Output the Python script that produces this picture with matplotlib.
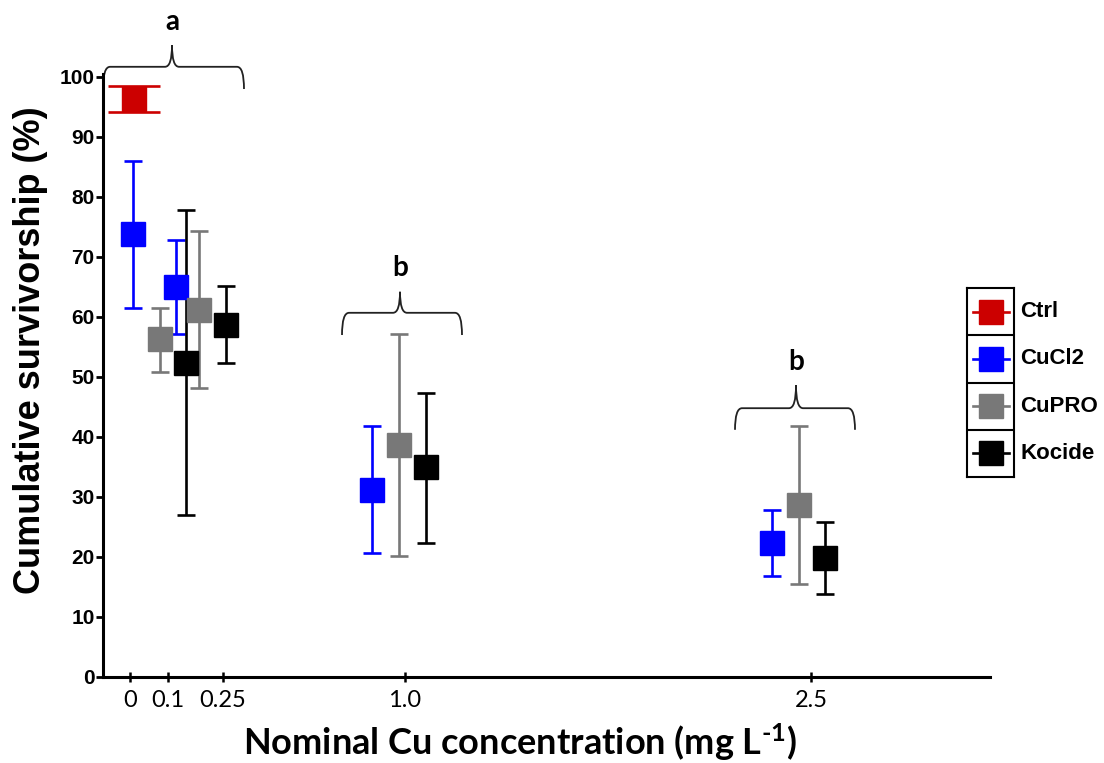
import matplotlib
matplotlib.use("Agg")
import matplotlib.pyplot as plt
from matplotlib.path import Path
from matplotlib.patches import PathPatch

# ---- data (survivorship %, mean with lower / upper bar ends) ----
conc_labels = ['0', '0.1', '0.25', '1.0', '2.5']

ctrl_mean = [96.3]
ctrl_lo = [94.2]
ctrl_hi = [98.5]

cucl2_mean = [73.8, 65.0, 31.2, 22.4]
cucl2_lo = [61.5, 57.2, 20.6, 16.9]
cucl2_hi = [86.0, 72.8, 41.8, 27.9]

cupro_mean = [56.3, 61.2, 38.7, 28.7]
cupro_lo = [50.9, 48.1, 20.2, 15.5]
cupro_hi = [61.5, 74.4, 57.2, 41.8]

kocide_mean = [52.4, 58.7, 35.0, 19.9]
kocide_lo = [27.0, 52.4, 22.4, 13.8]
kocide_hi = [77.8, 65.2, 47.3, 25.9]

group_letters = ['a', 'b', 'b']

# ---- layout: x axis is a stretched category axis ----
tick_pos = [27, 65, 120, 302, 708]
ctrl_x = [31]
cucl2_x = [30, 73, 269, 669]
cupro_x = [57, 96, 296, 696]
kocide_x = [83, 123, 323, 722]
# brace: left, right, centre, line y, end drop, tip rise ; letter y
braces = [(0, 141, 69, 101.7, 3.7, 3.6, 109.2),
          (239, 359, 297, 60.7, 3.7, 3.5, 68.2),
          (632, 752, 693, 44.8, 3.6, 3.8, 52.5)]

plt.rcParams['mathtext.fontset'] = 'custom'
plt.rcParams['mathtext.rm'] = 'Lato:bold'
plt.rcParams['mathtext.default'] = 'rm'

W, H = 1104, 763
fig = plt.figure(figsize=(W / 100, H / 100), dpi=100)
ax = fig.add_axes([103 / W, 1 - 677 / H, 887 / W, 603 / H])

series = [
    (ctrl_x, ctrl_mean, ctrl_lo, ctrl_hi, '#CC0000', 18.5),
    (cucl2_x, cucl2_mean, cucl2_lo, cucl2_hi, '#0000FF', 6.2),
    (cupro_x, cupro_mean, cupro_lo, cupro_hi, '#787878', 6.2),
    (kocide_x, kocide_mean, kocide_lo, kocide_hi, '#000000', 6.2),
]
for xs, m, lo, hi, col, cap in series:
    err = [[a - b for a, b in zip(m, lo)], [b - a for a, b in zip(m, hi)]]
    ax.errorbar(xs, m, yerr=err, fmt='s', ms=17, color=col, ecolor=col,
                elinewidth=1.9, capsize=cap, capthick=1.9, zorder=3)

ax.set_xlim(0, 887)
ax.set_ylim(0, 100.5)
ax.set_yticks(range(0, 101, 10))
ax.set_xticks(tick_pos)
ax.set_xticklabels(conc_labels, fontfamily='Lato', fontsize=17)
for lab in ax.get_yticklabels():
    lab.set_fontfamily('Liberation Sans')
    lab.set_fontweight('bold')
    lab.set_fontsize(15)
ax.tick_params(axis='y', direction='out', length=5, width=2, pad=1)
ax.tick_params(axis='x', direction='inout', length=7, width=1.8, pad=6)
for s in ['top', 'right']:
    ax.spines[s].set_visible(False)
for s in ['left', 'bottom']:
    ax.spines[s].set_linewidth(2.2)


def brace(x0, x1, xm, y, drop, rise):
    r = 7
    verts = [(x0, y - drop), (x0, y), (x0 + r, y),
             (xm - r, y), (xm, y), (xm, y + rise),
             (xm, y), (xm + r, y),
             (x1 - r, y), (x1, y), (x1, y - drop)]
    codes = [Path.MOVETO, Path.CURVE3, Path.CURVE3,
             Path.LINETO, Path.CURVE3, Path.CURVE3,
             Path.CURVE3, Path.CURVE3,
             Path.LINETO, Path.CURVE3, Path.CURVE3]
    ax.add_patch(PathPatch(Path(verts, codes), fill=False, lw=1.3,
                           edgecolor='#222222', clip_on=False))


for (x0, x1, xm, y, drop, rise, ty), letter in zip(braces, group_letters):
    brace(x0, x1, xm, y, drop, rise)
    ax.text(xm, ty, letter, ha='center', va='center', fontsize=20,
            fontweight='bold', fontfamily='Lato', clip_on=False)

fig.text(31 / W, 1 - 350 / H, 'Cumulative survivorship (%)', rotation=90,
         ha='center', va='center', fontsize=26, fontweight='bold',
         fontfamily='Liberation Sans')
fig.text(520 / W, 1 - 742 / H, r'Nominal Cu concentration (mg L$^{\text{-1}}$)',
         ha='center', va='center', fontsize=26, fontweight='bold',
         fontfamily='Lato')

# ---- boxed legend ----
names = ['Ctrl', 'CuCl2', 'CuPRO', 'Kocide']
cols = [s[4] for s in series]
lg = fig.add_axes([967 / W, 1 - 477 / H, 47 / W, 189 / H])
lg.set_xlim(0, 1)
lg.set_ylim(0, 4)
lg.set_xticks([])
lg.set_yticks([])
for s in lg.spines.values():
    s.set_linewidth(1.5)
for i, (nm, c) in enumerate(zip(names, cols)):
    yc = 3.5 - i
    lg.plot([0.12, 0.9], [yc, yc], color=c, lw=1.9)
    lg.plot([0.51], [yc], 's', ms=17, color=c)
    if i > 0:
        lg.axhline(4 - i, color='black', lw=1.5)
    fig.text(1020 / W, 1 - (288 + 189 * (i + 0.5) / 4) / H, nm,
             ha='left', va='center', fontsize=16, fontweight='bold',
             fontfamily='Liberation Sans')

fig.savefig('out.png', dpi=100)
